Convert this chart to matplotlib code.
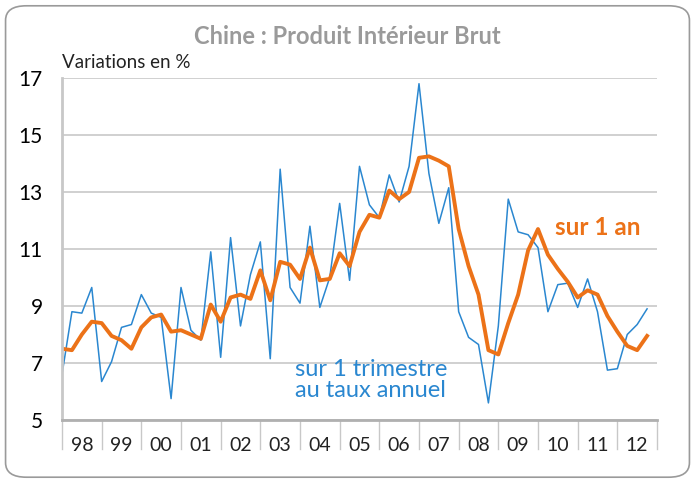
import matplotlib
matplotlib.use("Agg")
import matplotlib.pyplot as plt
from matplotlib.patches import FancyBboxPatch
import numpy as np

plt.rcParams["font.family"] = "Lato"

years = ["98","99","00","01","02","03","04","05","06","07","08","09","10","11","12"]
annual = [7.5,7.45,8.0,8.45, 8.4,7.95,7.8,7.5, 8.25,8.6,8.7,8.1, 8.15,8.0,7.85,9.05,
          8.45,9.3,9.4,9.25, 10.25,9.2,10.55,10.45, 9.95,11.05,9.9,9.95, 10.85,10.4,11.6,12.2,
          12.1,13.05,12.75,13.0, 14.2,14.25,14.1,13.9, 11.7,10.4,9.4,7.45, 7.3,8.4,9.4,10.95,
          11.7,10.8,10.3,9.85, 9.3,9.55,9.4,8.65, 8.1,7.6,7.45,7.95]
quarterly = [6.6,8.8,8.75,9.65, 6.35,7.05,8.25,8.35, 9.4,8.75,8.6,5.75, 9.65,8.15,7.8,10.9,
             7.2,11.4,8.3,10.1, 11.25,7.15,13.8,9.65, 9.1,11.8,8.95,10.0, 12.6,9.9,13.9,12.55,
             12.1,13.6,12.65,13.9, 16.8,13.65,11.9,13.15, 8.8,7.9,7.65,5.6, 8.3,12.75,11.6,11.5,
             11.05,8.8,9.75,9.8, 8.95,9.95,8.8,6.75, 6.8,8.0,8.35,8.9]

fig = plt.figure(figsize=(6.95, 4.83), dpi=100)
fig.patches.append(FancyBboxPatch((0.008, 0.012), 0.984, 0.976, boxstyle="round,pad=0,rounding_size=0.03",
                                  transform=fig.transFigure, fill=False, edgecolor="#9a9a9a", lw=1.2))
ax = fig.add_axes([62/695, 1-420/483, (657-62)/695, (420-78)/483])
x = np.arange(len(annual))
ax.plot(x, quarterly, color="#2a87d0", lw=1.1)
ax.plot(x, annual, color="#ec7218", lw=2.8)
ax.set_xlim(0, 60)
ax.set_ylim(5, 17)
ax.set_yticks([5,7,9,11,13,15,17])
ax.yaxis.grid(True, color="#c8c8c8", lw=1.2)
ax.set_axisbelow(True)
ax.set_xticks([])
for s in ["top","right"]:
    ax.spines[s].set_visible(False)
ax.spines["left"].set_color("#c8c8c8"); ax.spines["left"].set_linewidth(2)
ax.spines["bottom"].set_color("#b0b0b0"); ax.spines["bottom"].set_linewidth(2)
ax.tick_params(axis="y", length=0, labelsize=15, pad=14)
for i in range(16):
    ax.plot([i*4, i*4], [5, 4.0], color="#c8c8c8", lw=1, clip_on=False)
for i, y in enumerate(years):
    ax.text(i*4+2, 4.1, y, ha="center", va="center", fontsize=14, color="#222222")
ax.text(0, 17.25, "Variations en %", fontsize=13.5, ha="left", va="bottom", color="#222222")
fig.text(0.5, 0.925, "Chine : Produit Intérieur Brut", ha="center", va="center",
         fontsize=17, fontweight="bold", color="#9a9a9a")
ax.text(58.3, 11.75, "sur 1 an", ha="right", va="center", fontsize=17.5, fontweight="bold", color="#ec7218")
ax.text(23.5, 6.4, "sur 1 trimestre\nau taux annuel", ha="left", va="center", fontsize=17,
        color="#2a87d0", linespacing=1.0)
fig.savefig("out.png", dpi=100)
